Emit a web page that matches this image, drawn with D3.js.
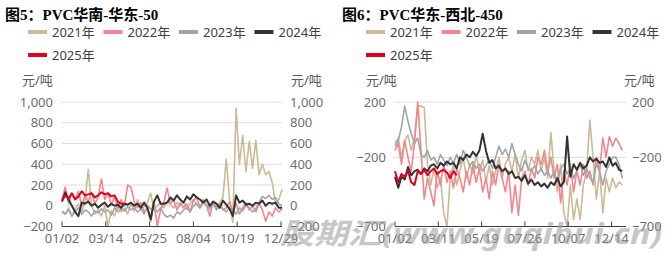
<!DOCTYPE html>
<html>
<head>
<meta charset="utf-8">
<script src="https://cdn.jsdelivr.net/npm/d3@7"></script>
<style>
  body { margin: 0; background: #fff; }
  svg text { font-family: "Noto Sans", "Noto Sans CJK SC", sans-serif; }
</style>
</head>
<body>
<div class="sh"></div>
<script>
// series names and colours
var years = ["2021年", "2022年", "2023年", "2024年", "2025年"];
var colors = ["#cdb994", "#f2868c", "#a3a4a7", "#333333", "#e0001b"];

// chart 1: PVC 华南-华东-50, one point every 1.5 steps of the date axis
var ticks1 = ["01/02", "03/14", "05/25", "08/04", "10/19", "12/29"];
var yTicks1 = [-200, 0, 200, 400, 600, 800, 1000];
var s1_2021 = [-50, -80, -20, -100, -30, 20, -60, 50, 350, 0, -80, -40, -100, 0, -200, -50, -100, 30, -60, -20,
  -80, 20, -50, 60, -40, -10, 30, 120, -40, 0, 30, -20, 40, 10, -20, 30, 0, 40, -30, 20,
  60, 10, -20, 30, 0, -40, 20, -10, 30, 80, 450, 60, -160, 940, 400, 680, 330, 620, 360, 630,
  300, 400, 300, 330, 220, 20, 60, 160];
var s1_2022 = [60, 180, 20, 120, 60, 140, 0, 100, 40, 130, 20, 80, 260, 60, 120, 10, 90, -30, 60, 0,
  200, 180, 40, -20, 30, -60, -20, -150, 40, -200, -40, 30, 170, 20, 60, -40, 30, -20, 20, -60,
  50, 80, -20, 60, 0, -100, 40, -20, 20, -40, -20, 40, -60, 20, -80, -20, 30, -40, 0, -60,
  20, -40, -150, -60, -100, -20, -60, -30];
var s1_2023 = [-60, -80, -40, -100, -60, -20, -80, -40, -60, -100, -50, -70, -30, -60, -40, -90, -20, -60, -30, -50,
  -10, -40, -20, -60, -30, -80, 0, -30, -20, -60, -20, -80, -110, -90, -120, -60, -80, -40, -20, -60,
  0, 20, -20, 30, 10, -20, 20, -40, 0, -30, -60, -20, -40, -80, -20, -50, 0, -20, -60, -30,
  30, 90, 70, 100, 60, 80, 20, 0];
var s1_2024 = [40, 130, 60, 0, -60, -100, 30, 20, 40, 0, 20, -20, 10, 30, -10, 20, 0, 10, -20, 20,
  10, 30, 0, 20, -20, 30, -20, -130, 40, 100, 20, 20, 30, 80, 50, 100, 60, 30, 90, 60,
  110, 80, 60, 30, 60, 0, 40, 20, -20, 50, 10, -30, -100, 100, 30, 50, 10, 20, 0, 30,
  20, 50, 0, 30, 20, 30, -20, -20];
var s1_2025 = [50, 100, 70, 120, 60, 90, 140, 100, 110, 120, 80, 100, 130, 110, 120, 90, 100, 40, 20, 20];

// chart 2: PVC 华东-西北-450
var ticks2 = ["01/02", "03/11", "05/19", "07/26", "10/07", "12/14"];
var yTicks2 = [-700, -200, 200];
var s2_2021 = [-100, -60, -200, -80, -40, -150, -60, 170, 170, 160, -250, -400, -280, -420, -350, -600, -700, -350, -250, -400,
  -300, -200, -350, -250, -320, -180, -300, -220, -380, -260, -400, -300, -200, -350, -250, -200, -300, -180, -350, -220,
  -150, -300, -200, -250, -150, -300, -200, -350, -20, -300, -450, -250, -600, -700, -400, -650, -500, -650, -400, -300,
  70, -200, -500, -300, -600, -350, -450, -350, -420, -380, -400];
var s2_2022 = [-150, -100, -250, -80, -200, -300, -100, 200, -150, -500, -350, -450, -550, -300, -400, -250, -380, -300, -420, -280,
  -350, -450, -300, -400, -250, -380, -280, -450, -350, -500, -300, -400, -250, -350, -450, -300, -600, -400, -620, -350,
  -300, -400, -280, -350, -200, -250, -150, -300, -200, -350, -250, -530, -300, -400, -250, -450, -300, -400, -250, -350,
  -300, -400, -200, -300, -60, -200, -50, -120, -60, -100, -150];
var s2_2023 = [-120, -80, 20, 170, 60, -30, -100, -60, -180, -200, -150, -220, -200, -250, -180, -220, -260, -200, -240, -180,
  -250, -150, -200, -260, -230, -280, -250, -300, -260, -220, -280, -200, -120, -180, -140, -200, -100, -180, -250, -300,
  -220, -280, -300, -260, -320, -280, -330, -300, -350, -300, -380, -280, -250, -320, -280, -350, -300, -250, -330, -280,
  -350, -380, -250, -300, -400, -300, -250, -200, -200, -250, -350];
var s2_2024 = [-340, -420, -340, -360, -270, -330, -300, -290, -320, -280, -300, -260, -250, -280, -240, -260, -230, -250, -240, -280,
  -200, -220, -180, -200, -160, -190, -150, -30, -150, -240, -220, -280, -260, -300, -280, -320, -300, -350, -340, -370,
  -330, -390, -360, -400, -380, -410, -390, -420, -380, -400, -350, -410, -380, -50, -340, -250, -290, -240, -280, -260,
  -200, -230, -210, -240, -230, -270, -200, -260, -240, -290, -300];
var s2_2025 = [-300, -380, -320, -340, -300, -380, -400, -300, -320, -290, -330, -300, -280, -320, -300, -290, -310, -350, -300, -330];

var step = 1.5;

var svg = d3.select(".sh").append("svg")
    .attr("width", 668)
    .attr("height", 255);

function drawChart(opt) {
    var g = svg.append("g");

    var x = d3.scaleLinear().domain([0, 100]).range([opt.x0, opt.x1]);
    var y = d3.scaleLinear().domain(opt.yDomain).range([226.5, 102]);

    // title
    g.append("text")
        .attr("x", opt.titleX).attr("y", 20)
        .style("font-family", "'Liberation Serif', 'Noto Sans CJK SC', serif")
        .style("font-weight", "bold")
        .style("font-size", "15px")
        .attr("fill", "#000")
        .text(opt.title);

    // legend
    years.forEach(function (name, i) {
        var lx = opt.legendX + (i % 4) * 75.5,
            ly = i < 4 ? 32 : 55;
        g.append("line")
            .attr("x1", lx).attr("x2", lx + 19)
            .attr("y1", ly).attr("y2", ly)
            .attr("stroke", colors[i])
            .attr("stroke-width", 4);
        g.append("text")
            .attr("x", lx + 24).attr("y", ly + 4.5)
            .attr("fill", "#404040")
            .style("font-size", "13px")
            .text(name);
    });

    // units
    g.append("text").attr("x", opt.unitL).attr("y", 84.5)
        .attr("fill", "#595959").style("font-size", "13px").text("元/吨");
    g.append("text").attr("x", opt.unitR).attr("y", 84.5)
        .attr("fill", "#595959").style("font-size", "13px").text("元/吨");

    // grid
    g.selectAll(".grid")
        .data(opt.yTicks.filter(function (d) { return d !== opt.yDomain[0]; }))
        .enter().append("line")
        .attr("x1", opt.gx0).attr("x2", opt.gx1)
        .attr("y1", function (d) { return y(d); })
        .attr("y2", function (d) { return y(d); })
        .attr("stroke", "#dcdce6")
        .attr("stroke-width", 1);

    // y labels both sides
    var fmt = d3.format(",");
    g.selectAll(".yl")
        .data(opt.yTicks)
        .enter().append("text")
        .attr("x", opt.yLabL)
        .attr("y", function (d) { return y(d) + 4.5; })
        .attr("text-anchor", "end")
        .attr("fill", "#6e6e6e")
        .style("font-size", "13px")
        .text(function (d) { return fmt(d); });
    g.selectAll(".yr")
        .data(opt.yTicks)
        .enter().append("text")
        .attr("x", opt.yLabR)
        .attr("y", function (d) { return y(d) + 4.5; })
        .attr("fill", "#6e6e6e")
        .style("font-size", "13px")
        .text(function (d) { return fmt(d); });

    // series lines
    var line = d3.line()
        .x(function (d, i) { return x(i * step); })
        .y(function (d) { return y(d); });

    opt.series.forEach(function (s, i) {
        g.append("path")
            .datum(s)
            .attr("d", line)
            .attr("fill", "none")
            .attr("stroke", colors[i])
            .attr("stroke-width", i >= 3 ? 2 : 1.6)
            .attr("stroke-linejoin", "round");
    });

    // x axis
    var tickPos = opt.ticks.map(function (d, i) { return i * 20; });
    g.append("line")
        .attr("x1", opt.x0).attr("x2", opt.gx1)
        .attr("y1", 226.5).attr("y2", 226.5)
        .attr("stroke", "#404040").attr("stroke-width", 1);
    g.selectAll(".xt")
        .data(tickPos)
        .enter().append("line")
        .attr("x1", function (d) { return x(d); })
        .attr("x2", function (d) { return x(d); })
        .attr("y1", 226.5).attr("y2", 221.5)
        .attr("stroke", "#404040");
    g.selectAll(".xl")
        .data(opt.ticks)
        .enter().append("text")
        .attr("x", function (d, i) { return x(tickPos[i]); })
        .attr("y", 243)
        .attr("text-anchor", "middle")
        .attr("fill", "#6e6e6e")
        .style("font-size", "13px")
        .text(function (d) { return d; });
}

drawChart({
    title: "图5：PVC华南-华东-50", titleX: 5,
    x0: 62, x1: 281, gx0: 62, gx1: 282,
    yDomain: [-200, 1000], yTicks: yTicks1,
    ticks: ticks1, legendX: 28,
    unitL: 22, unitR: 291, yLabL: 53, yLabR: 290,
    series: [s1_2021, s1_2022, s1_2023, s1_2024, s1_2025]
});

drawChart({
    title: "图6：PVC华东-西北-450", titleX: 342,
    x0: 395, x1: 611.5, gx0: 394, gx1: 626,
    yDomain: [-700, 200], yTicks: yTicks2,
    ticks: ticks2, legendX: 366,
    unitL: 366, unitR: 624, yLabL: 386, yLabR: 632,
    series: [s2_2021, s2_2022, s2_2023, s2_2024, s2_2025]
});

// watermark
svg.append("text")
    .attr("x", 280).attr("y", 244)
    .attr("textLength", 382)
    .attr("lengthAdjust", "spacingAndGlyphs")
    .attr("fill", "#9a9a9a")
    .attr("opacity", 0.55)
    .style("font-size", "29px")
    .style("font-weight", "bold")
    .style("font-style", "italic")
    .text("股期汇(www.guqihui.cn)");
</script>
</body>
</html>
